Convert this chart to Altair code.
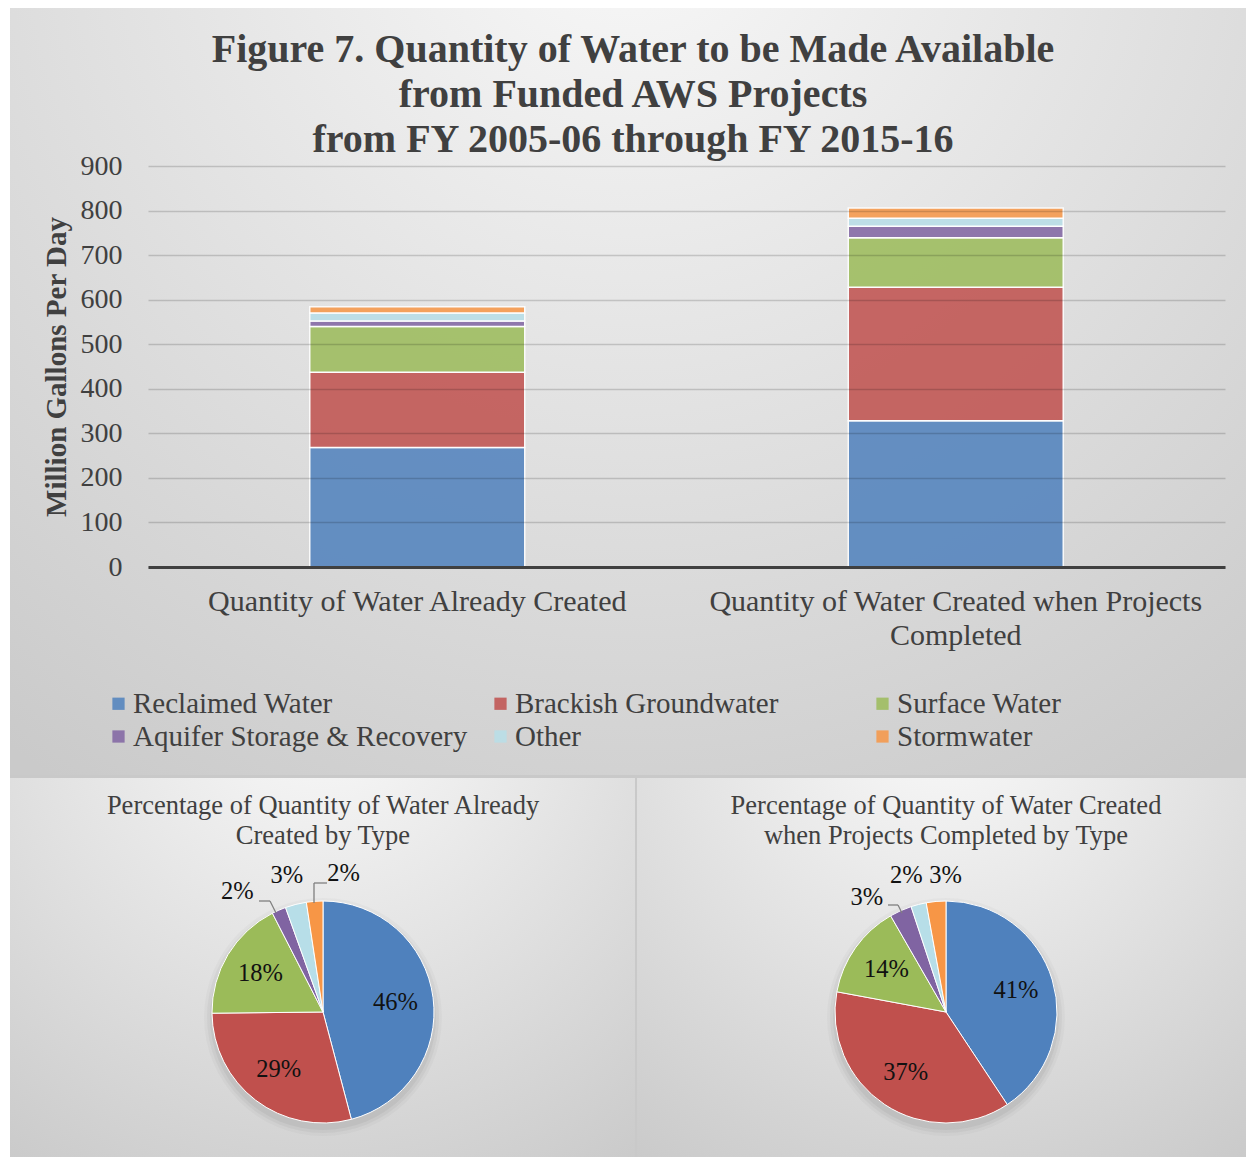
import math
import altair as alt
import pandas as pd

# ---------------- data ----------------
series = ["Reclaimed Water", "Brackish Groundwater", "Surface Water",
          "Aquifer Storage & Recovery", "Other", "Stormwater"]
colors = ["#4F81BD", "#C0504D", "#9BBB59", "#8064A2", "#B7DEE8", "#F79646"]
bar_cats = ["Quantity of Water Already Created",
            "Quantity of Water Created when Projects Completed"]
created = [268, 169, 103, 12, 18, 14]
completed = [328, 300, 111, 26, 18, 23]
y_ticks = [0, 100, 200, 300, 400, 500, 600, 700, 800, 900]

title_lines = ["Figure 7. Quantity of Water to be Made Available",
               "from Funded AWS Projects",
               "from FY 2005-06 through FY 2015-16"]
pie1_title = ["Percentage of Quantity of Water Already", "Created by Type"]
pie2_title = ["Percentage of Quantity of Water Created", "when Projects Completed by Type"]

FONT = "Liberation Serif"
TXT = "#404040"

rows = []
for cat, vals in zip(bar_cats, [created, completed]):
    for i, (s, v) in enumerate(zip(series, vals)):
        rows.append({"group": cat, "series": s, "idx": i, "value": v})
df = pd.DataFrame(rows)

color_scale = alt.Scale(domain=series, range=colors)
legend = alt.Legend(title=None, orient="none", legendX=-44, legendY=523, direction="horizontal",
                    columns=3, gridAlign="all", columnPadding=18,
                    rowPadding=3, labelFont=FONT, labelFontSize=29,
                    labelColor=TXT, symbolType="square",
                    symbolSize=150, symbolOpacity=0.85,
                    symbolStrokeWidth=0, labelOffset=0,
                    labelLimit=500, zindex=1)
color_enc = alt.Color("series:N", scale=color_scale, legend=legend)

one = pd.DataFrame({"a": [0]})


def radial(c0, c1, cy, r2):
    return {"gradient": "radial", "x1": 0.5, "y1": cy, "r1": 0,
            "x2": 0.5, "y2": cy, "r2": r2,
            "stops": [{"offset": 0, "color": c0}, {"offset": 1, "color": c1}]}


# panel extents relative to the bar plot origin
LEFT, RIGHT, TOP, BOTTOM = -138, 1098, -158, 991
TOP_END, PIE_START = 609, 612
MID_L, MID_R = 487, 489

# ---------------- top stacked bar chart ----------------
W, H = 1077, 401

under = alt.Chart(one).mark_rect(fill="#c9c9c9").encode(
    x=alt.value(LEFT), x2=alt.value(RIGHT), y=alt.value(TOP), y2=alt.value(BOTTOM))

bg = alt.Chart(one).mark_rect(fill=radial("#f9f9f9", "#cacaca", 0.1, 0.85)).encode(
    x=alt.value(LEFT), x2=alt.value(RIGHT), y=alt.value(TOP), y2=alt.value(TOP_END))

label_expr = ("datum.label == 'Quantity of Water Created when Projects Completed' ? "
              "['Quantity of Water Created when Projects', 'Completed'] : datum.label")

bars = alt.Chart(df).mark_bar(size=215, opacity=0.85, stroke="white", strokeWidth=1.5).encode(
    x=alt.X("group:N", scale=alt.Scale(domain=bar_cats), sort=bar_cats,
            axis=alt.Axis(title=None, labelAngle=0, ticks=False, domainColor=TXT,
                          domainWidth=3, labelFont=FONT, labelFontSize=30,
                          labelColor=TXT, labelPadding=19, labelExpr=label_expr,
                          labelLineHeight=34, labelLimit=700, zindex=1)),
    y=alt.Y("value:Q", scale=alt.Scale(domain=[0, 900], nice=False),
            axis=alt.Axis(title="Million Gallons Per Day", values=y_ticks,
                          ticks=False, domain=False, grid=True, gridColor="#000000",
                          gridOpacity=0.16, gridWidth=1.5, labelFont=FONT,
                          labelFontSize=28, labelColor=TXT, labelPadding=26,
                          titleFont=FONT, titleFontSize=29, titleFontWeight="bold",
                          titleColor=TXT, titlePadding=9, zindex=1)),
    color=color_enc,
    order=alt.Order("idx:Q", sort="ascending"),
)

title = alt.Chart(one).mark_text(text=title_lines, font=FONT, fontSize=40, fontWeight="bold",
                                 color=TXT, lineHeight=45, align="center",
                                 baseline="alphabetic").encode(
    x=alt.value(485), y=alt.value(-104))

layers = [under, bg, bars, title]

# ---------------- pies ----------------


def leader(pts):
    segs = []
    for (xa, ya), (xb, yb) in zip(pts[:-1], pts[1:]):
        segs.append(alt.Chart(one).mark_rule(color="#7f7f7f", strokeWidth=1.3).encode(
            x=alt.value(xa), y=alt.value(ya), x2=alt.value(xb), y2=alt.value(yb)))
    return segs


def make_pie(vals, tlines, px0, px1, cx, small_offsets, leaders):
    py0, py1 = PIE_START, BOTTOM
    cy = 846
    d = pd.DataFrame({"series": series, "idx": list(range(len(series))), "value": vals})
    base = alt.Chart(d).transform_joinaggregate(total="sum(value)").transform_calculate(
        pct="datum.value / datum.total")
    theta = alt.Theta("value:Q", stack=True)
    order = alt.Order("idx:Q", sort="ascending")
    out = [alt.Chart(one).mark_rect(fill=radial("#fbfbfb", "#c8c8c8", 0.05, 0.95)).encode(
        x=alt.value(px0), x2=alt.value(px1), y=alt.value(py0), y2=alt.value(py1))]
    for r, op in [(119, 0.025), (116, 0.035), (113, 0.045)]:
        out.append(alt.Chart(one).mark_arc(theta=0, theta2=2 * math.pi, outerRadius=r,
                                           fill="#000000", opacity=op).encode(
            x=alt.value(cx), y=alt.value(cy + 5)))
    arcs = base.mark_arc(outerRadius=111, stroke="white", strokeWidth=1).encode(
        theta=theta, order=order, color=color_enc,
        x=alt.value(cx), y=alt.value(cy))
    out.append(arcs)
    inner = base.transform_calculate(
        lbl="datum.pct >= 0.05 ? format(datum.pct, '.0%') : ''"
    ).mark_text(radius=73, font=FONT, fontSize=24.5, color="#111111").encode(
        theta=theta, order=order, text="lbl:N", x=alt.value(cx), y=alt.value(cy))
    out.append(inner)
    for name, (dx, dy) in small_offsets.items():
        lay = base.transform_calculate(
            lbl=f"datum.series == '{name}' ? format(datum.pct, '.0%') : ''"
        ).mark_text(radius=140, dx=dx, dy=dy, font=FONT, fontSize=24.5, color="#111111").encode(
            theta=theta, order=order, text="lbl:N", x=alt.value(cx), y=alt.value(cy))
        out.append(lay)
    for pts in leaders:
        out += leader(pts)
    ttl = alt.Chart(one).mark_text(text=tlines, font=FONT, fontSize=26.5, color=TXT,
                                   lineHeight=30, baseline="top", align="center").encode(
        x=alt.value(cx), y=alt.value(py0 + 15))
    out.append(ttl)
    return out


layers += make_pie(created, pie1_title, LEFT, MID_L, 175,
                   {"Aquifer Storage & Recovery": (-30, 8), "Other": (-2, 0),
                    "Stormwater": (31, 2)},
                   [[(111, 735), (122, 735), (128, 747)],
                    [(179, 717), (166, 717), (166, 737)]])
layers += make_pie(completed, pie2_title, MID_R, RIGHT, 798,
                   {"Aquifer Storage & Recovery": (-22, 14), "Other": (-5, 0),
                    "Stormwater": (12, 3)},
                   [[(740, 739), (750, 739), (754, 747)]])

chart = alt.layer(*layers).resolve_scale(theta="independent").properties(
    width=W, height=H,
    padding={"left": 2, "top": 0, "right": 0, "bottom": 0},
    background="white",
).configure_view(stroke=None)

chart.save("out.html", embed_options={"renderer": "svg", "actions": False})
